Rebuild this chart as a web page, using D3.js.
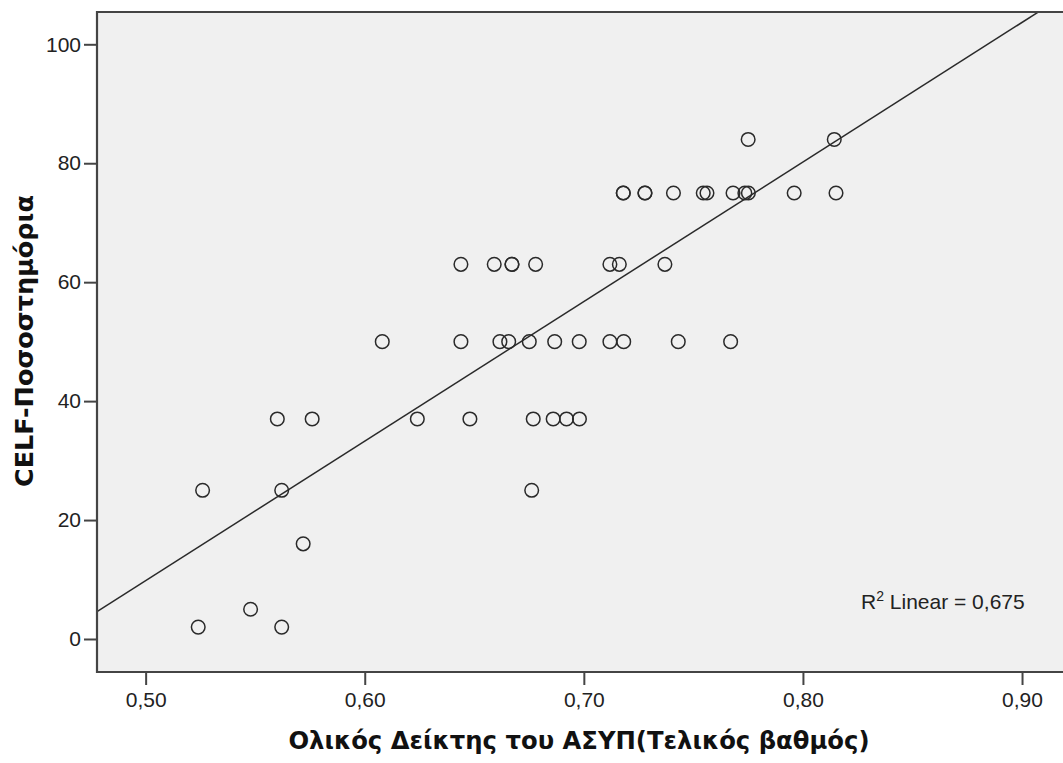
<!DOCTYPE html>
<html>
<head>
<meta charset="utf-8">
<script src="https://cdn.jsdelivr.net/npm/d3@7"></script>
<style>
  html, body { margin: 0; padding: 0; background: #ffffff; }
  svg { display: block; }
</style>
</head>
<body>
<svg id="chart" width="1063" height="763"></svg>
<script>
// ---- data ----
const xValues = [
  0.7180, 0.7180, 0.7279, 0.7279, 0.7409, 0.7545, 0.7562, 0.7681, 0.7735, 0.7751, 0.7960, 0.8151,
  0.7750, 0.8143,
  0.6439, 0.6591, 0.6672, 0.6672, 0.6780, 0.7119, 0.7162, 0.7370,
  0.6080, 0.6439, 0.6617, 0.6657, 0.6751, 0.6867, 0.6979, 0.7119, 0.7182, 0.7431, 0.7670,
  0.5601, 0.5760, 0.6240, 0.6480, 0.6769, 0.6860, 0.6921, 0.6980,
  0.5260, 0.5621, 0.6762,
  0.5719,
  0.5479,
  0.5240, 0.5621
];
const yValues = [
  75, 75, 75, 75, 75, 75, 75, 75, 75, 75, 75, 75,
  84, 84,
  63, 63, 63, 63, 63, 63, 63, 63,
  50, 50, 50, 50, 50, 50, 50, 50, 50, 50, 50,
  37, 37, 37, 37, 37, 37, 37, 37,
  25, 25, 25,
  16,
  5,
  2, 2
];
const xTicks = [0.5, 0.6, 0.7, 0.8, 0.9];
const yTicks = [0, 20, 40, 60, 80, 100];
const fitIntercept = -107.55;
const fitSlope = 234.7;
const rSquaredLabel = "0,675";
const xTitle = "Ολικός Δείκτης του ΑΣΥΠ(Τελικός βαθμός)";
const yTitle = "CELF-Ποσοστημόρια";

// ---- layout ----
const plotLeft = 97, plotRight = 1063, plotTop = 12, plotBottom = 672;
const x = d3.scaleLinear().domain([0.4778, 0.9187]).range([plotLeft, plotRight]);
const y = d3.scaleLinear().domain([-5.55, 105.43]).range([plotBottom, plotTop]);

const svg = d3.select("#chart");

// plot background
svg.append("rect")
  .attr("x", plotLeft).attr("y", plotTop)
  .attr("width", plotRight - plotLeft + 10).attr("height", plotBottom - plotTop)
  .attr("fill", "#f0f0f0");

svg.append("defs").append("clipPath").attr("id", "clip")
  .append("rect")
  .attr("x", plotLeft).attr("y", plotTop)
  .attr("width", plotRight - plotLeft + 10).attr("height", plotBottom - plotTop);

// regression line
const x0 = x.domain()[0], x1 = x.domain()[1];
svg.append("g").attr("clip-path", "url(#clip)")
  .append("line")
  .attr("x1", x(x0)).attr("y1", y(fitIntercept + fitSlope * x0))
  .attr("x2", x(x1)).attr("y2", y(fitIntercept + fitSlope * x1))
  .attr("stroke", "#2a2a2a").attr("stroke-width", 1.5);

// points
const pts = xValues.map((v, i) => ({ x: v, y: yValues[i] }));
svg.append("g").attr("clip-path", "url(#clip)")
  .selectAll("circle").data(pts).join("circle")
  .attr("cx", d => x(d.x)).attr("cy", d => y(d.y))
  .attr("r", 6.8)
  .attr("fill", "none").attr("stroke", "#2a2a2a").attr("stroke-width", 1.5);

// axes
const fmtX = v => d3.format(".2f")(v).replace(".", ",");
const xAxis = svg.append("g").attr("transform", `translate(0,${plotBottom})`)
  .call(d3.axisBottom(x).tickValues(xTicks).tickFormat(fmtX).tickSize(13).tickSizeOuter(0).tickPadding(7));
const yAxis = svg.append("g").attr("transform", `translate(${plotLeft},0)`)
  .call(d3.axisLeft(y).tickValues(yTicks).tickFormat(d3.format("d")).tickSize(13).tickSizeOuter(0).tickPadding(3));

[xAxis, yAxis].forEach(a => {
  a.select(".domain").remove();
  a.selectAll(".tick line").attr("stroke", "#444").attr("stroke-width", 2);
  a.selectAll(".tick text")
    .attr("fill", "#222")
    .style("font-family", "'Liberation Sans', Arial, sans-serif")
    .style("font-size", "21px");
});

// plot frame (left, top, bottom)
svg.append("path")
  .attr("d", `M${plotRight + 5},${plotTop} H${plotLeft} V${plotBottom} H${plotRight + 5}`)
  .attr("fill", "none").attr("stroke", "#444").attr("stroke-width", 2.2);

// R² annotation
const rt = svg.append("text")
  .attr("x", 861).attr("y", 609)
  .attr("fill", "#222")
  .style("font-family", "'Liberation Sans', Arial, sans-serif")
  .style("font-size", "21px");
rt.append("tspan").text("R");
rt.append("tspan").attr("dy", -8).style("font-size", "14px").text("2");
rt.append("tspan").attr("dy", 8).text(" Linear = " + rSquaredLabel);

// axis titles
svg.append("text")
  .attr("x", 579).attr("y", 749)
  .attr("text-anchor", "middle")
  .attr("fill", "#111")
  .style("font-family", "'DejaVu Sans', Verdana, sans-serif")
  .style("font-weight", "bold")
  .style("font-size", "24.3px")
  .text(xTitle);

svg.append("text")
  .attr("transform", "translate(33,341) rotate(-90)")
  .attr("text-anchor", "middle")
  .attr("fill", "#111")
  .style("font-family", "'DejaVu Sans', Verdana, sans-serif")
  .style("font-weight", "bold")
  .style("font-size", "25.5px")
  .text(yTitle);
</script>
</body>
</html>
